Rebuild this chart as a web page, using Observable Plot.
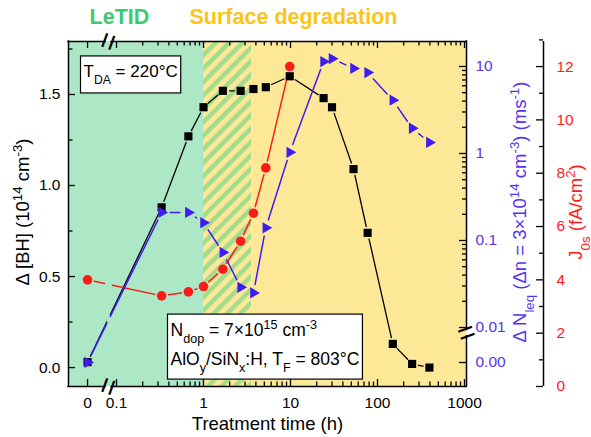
<!DOCTYPE html>
<html><head><meta charset="utf-8">
<script src="https://cdn.jsdelivr.net/npm/d3@7"></script>
<script src="https://cdn.jsdelivr.net/npm/@observablehq/plot@0.6"></script>
<style>body{margin:0;background:#fff} svg{display:block}</style>
</head><body><div id="chart"></div>
<script>
// ---------------- data ----------------
const times     = [0, 0.33, 0.67, 1, 1.67, 2.67, 3.75, 5.2, 9.8, 24, 30, 53, 77, 150, 250, 395];
const deltaBH   = [0.03, 0.88, 1.27, 1.43, 1.52, 1.52, 1.53, 1.54, 1.60, 1.48, 1.43, 1.09, 0.74, 0.13, 0.02, 0.0];
const deltaNleq = [0, 0.21, 0.21, 0.16, 0.073, 0.029, 0.025, 0.14, 1.03, 11.4, 12.3, 9.5, 8.5, 4.1, 1.95, 1.34];
const j0s       = [4.0, 3.4, 3.55, 3.75, 4.4, 5.45, 6.5, 8.2, 12.0];

const xTicks      = [0, 0.1, 1, 10, 100, 1000];
const xTickLabels = ["0", "0.1", "1", "10", "100", "1000"];
const bhTicks      = [0, 0.5, 1.0, 1.5];
const bhTickLabels = ["0.0", "0.5", "1.0", "1.5"];
const bhMinor      = [0.25, 0.75, 1.25, 1.75];
const nTicks      = [0, 0.01, 0.1, 1, 10];
const nTickLabels = ["0.00", "0.01", "0.1", "1", "10"];
const jTicks      = [0, 2, 4, 6, 8, 10, 12];
const jTickLabels = ["0", "2", "4", "6", "8", "10", "12"];
const jMinor      = [1, 3, 5, 7, 9, 11, 13];
const phaseEnds = {letid: 1, transition: 3.6};   // h

// ---------------- axis geometry ----------------
const W = 591, H = 437, mL = 68, mR = 125, mT = 41, mB = 51;
const FW = W - mL - mR, FH = H - mT - mB;
const X_ZERO = -1.333;                  // where t = 0 sits (log-decade units)
const xDomain = [-1.552, 3.023];
const xBreak = -1.092, gapX = 0.035;
const tx = t => t === 0 ? X_ZERO : Math.log10(t);
const BH = [-0.104, 1.791];
const J = [0, 12.94];
const N = {zero: 0.0696, at001: 0.171, decade: 0.2522};
const fBH = v => (v - BH[0]) / (BH[1] - BH[0]);
const fJ = v => (v - J[0]) / (J[1] - J[0]);
const fN = v => v === 0 ? N.zero : N.at001 + N.decade * (Math.log10(v) + 2);
const nBreak = 0.155, gapY = 0.009;

const xMinor = []; for (let e = -1; e < 3; e++) for (let k = 2; k < 10; k++) xMinor.push(k * 10 ** e);
const nMinor = []; for (let e = -2; e < 1; e++) for (let k = 2; k < 10; k++) nMinor.push(k * 10 ** e);

const bhData = times.map((t, i) => ({t, v: deltaBH[i]}));
const nData = times.map((t, i) => ({t, v: deltaNleq[i]}));
const jData = j0s.map((v, i) => ({t: times[i], v}));

// Origin-style connecting segments (gap at symbols and at the axis break)
const pxPerU = FW / (xDomain[1] - xDomain[0]);
function segments(data, fy, inset) {
  const out = [];
  const len = (a, b) => Math.hypot((b.x - a.x) * pxPerU, (b.y - a.y) * FH);
  const push = (a, b, s, e) => { if (len(a, b) > s + e + 1) out.push({x1: a.x, y1: a.y, x2: b.x, y2: b.y, s, e}); };
  for (let i = 0; i < data.length - 1; i++) {
    const a = {x: tx(data[i].t), y: fy(data[i].v)}, b = {x: tx(data[i + 1].t), y: fy(data[i + 1].v)};
    if (a.x < xBreak && b.x > xBreak) {
      const k = (xBreak - a.x) / (b.x - a.x), c = {x: xBreak, y: a.y + k * (b.y - a.y)};
      push(a, c, inset, 4); push(c, b, 4, inset);
    } else push(a, b, inset, inset);
  }
  return out;
}
function segMarks(segs, stroke, sw) {
  const groups = d3.groups(segs, d => d.s + "|" + d.e);
  return groups.map(([k, g]) => Plot.arrow(g, {x1: "x1", y1: "y1", x2: "x2", y2: "y2",
    insetStart: g[0].s, insetEnd: g[0].e, headLength: 0, stroke, strokeWidth: sw}));
}

const green = "#ade8c6", yellow = "#fde898", stripe = "#a3dc8c";
const cBlue = "#3f1cf2", cBlueText = "#5533f5", cRed = "#ff1a1a";
const triRight = {draw(ctx, size) {
  const r = Math.sqrt(size / Math.PI);
  ctx.moveTo(r, 0); ctx.lineTo(-r / 2, -r * 0.866); ctx.lineTo(-r / 2, r * 0.866); ctx.closePath();
}};

const frameSegs = [
  {y: 0, x1: xDomain[0], x2: xBreak - gapX}, {y: 0, x1: xBreak + gapX, x2: xDomain[1]},
  {y: 1, x1: xDomain[0], x2: xBreak - gapX}, {y: 1, x1: xBreak + gapX, x2: xDomain[1]}
];
const frameSegsV = [
  {x: xDomain[0], y1: 0, y2: 1},
  {x: xDomain[1], y1: 0, y2: nBreak - gapY}, {x: xDomain[1], y1: nBreak + gapY, y2: 1}
];
const tk = {stroke: "black", strokeWidth: 1.3};
const fs = 15.5, lab = 18.5;
const mid = {textAnchor: "middle", lineAnchor: "middle"};

const plot = Plot.plot({
  width: W, height: H,
  marginLeft: mL, marginRight: mR, marginTop: mT, marginBottom: mB,
  x: {domain: xDomain, axis: null},
  y: {domain: [0, 1], axis: null},
  style: {fontFamily: "'Liberation Sans', Arial, sans-serif", background: "white", overflow: "visible"},
  marks: [
    Plot.rect([0], {x1: () => xDomain[0], x2: () => tx(phaseEnds.letid), y1: () => 0, y2: () => 1, fill: green}),
    Plot.rect([0], {x1: () => tx(phaseEnds.letid), x2: () => tx(phaseEnds.transition), y1: () => 0, y2: () => 1, fill: "url(#hatch)"}),
    Plot.rect([0], {x1: () => tx(phaseEnds.transition), x2: () => xDomain[1], y1: () => 0, y2: () => 1, fill: yellow}),
    // frame
    Plot.ruleY(frameSegs, {y: "y", x1: "x1", x2: "x2", stroke: "black", strokeWidth: 1.5, strokeLinecap: "square"}),
    Plot.ruleX(frameSegsV, {x: "x", y1: "y1", y2: "y2", stroke: "black", strokeWidth: 1.5, strokeLinecap: "square"}),
    // x ticks (bottom and top, inward)
    Plot.ruleX(xTicks, {x: tx, insetTop: FH - 7, ...tk}),
    Plot.ruleX(xTicks, {x: tx, insetBottom: FH - 7, ...tk}),
    Plot.ruleX(xMinor, {x: tx, insetTop: FH - 4.5, ...tk}),
    Plot.ruleX(xMinor, {x: tx, insetBottom: FH - 4.5, ...tk}),
    // left ticks
    Plot.ruleY(bhTicks, {y: fBH, insetRight: FW - 7, ...tk}),
    Plot.ruleY(bhMinor, {y: fBH, insetRight: FW - 4.5, ...tk}),
    // right (blue) ticks
    Plot.ruleY(nTicks, {y: fN, insetLeft: FW - 7, ...tk}),
    Plot.ruleY(nMinor, {y: fN, insetLeft: FW - 4, ...tk}),
    // red axis
    Plot.ruleX([0], {x: () => xDomain[1], y1: () => 0, y2: () => 1, dx: 77, stroke: "black", strokeWidth: 1.5}),
    Plot.ruleY(jTicks, {y: fJ, insetLeft: FW - 7, dx: 77, ...tk}),
    Plot.ruleY(jMinor, {y: fJ, insetLeft: FW - 4, dx: 77, ...tk}),
    // axis breaks
    Plot.text(["="], {text: d => d, x: () => xBreak, frameAnchor: "bottom", rotate: -70, fontSize: 30, ...mid}),
    Plot.text(["="], {text: d => d, x: () => xBreak, frameAnchor: "top", rotate: -70, fontSize: 30, ...mid}),
    Plot.text(["="], {text: d => d, y: () => nBreak, frameAnchor: "right", rotate: -20, fontSize: 30, ...mid}),
    // series lines
    ...segMarks(segments(bhData, fBH, 6.5), "black", 1.3),
    ...segMarks(segments(jData, fJ, 7), cRed, 1.5),
    ...segMarks(segments(nData, fN, 8.5), cBlue, 1.5),
    // series symbols
    Plot.dot(bhData, {x: d => tx(d.t), y: d => fBH(d.v), symbol: "square", r: 4.6, fill: "black"}),
    Plot.dot(jData, {x: d => tx(d.t), y: d => fJ(d.v), symbol: "circle", r: 4.8, fill: cRed}),
    Plot.dot(nData, {x: d => tx(d.t), y: d => fN(d.v), symbol: triRight, r: 6.5, fill: cBlue}),
    // tick labels
    Plot.text(xTicks, {x: tx, text: (d, i) => xTickLabels[i], frameAnchor: "bottom", dy: 17, fontSize: fs, ...mid}),
    Plot.text(bhTicks, {y: fBH, text: (d, i) => bhTickLabels[i], frameAnchor: "left", dx: -8, textAnchor: "end", lineAnchor: "middle", fontSize: fs}),
    Plot.text(nTicks, {y: fN, text: (d, i) => nTickLabels[i], frameAnchor: "right", dx: 9, textAnchor: "start", lineAnchor: "middle", fontSize: fs, fill: cBlueText}),
    Plot.text(jTicks, {y: fJ, text: (d, i) => jTickLabels[i], frameAnchor: "right", dx: 90, textAnchor: "start", lineAnchor: "middle", fontSize: fs, fill: cRed}),
    // axis titles
    Plot.text(["Treatment time (h)"], {text: d => d, frameAnchor: "bottom", dy: 38, fontSize: lab, ...mid}),
    Plot.text(["Δ [BH] (10^{14} cm^{-3})"], {text: d => d, frameAnchor: "left", dx: -45, dy: -2, rotate: -90, fontSize: lab, ...mid}),
    Plot.text(["Δ N_{leq} (Δn = 3×10^{14} cm^{-3}) (ms^{-1})"], {text: d => d, frameAnchor: "right", dx: 54, dy: -2, rotate: -90, fontSize: lab, fill: cBlueText, ...mid}),
    Plot.text(["J_{0s} (fA/cm^{2})"], {text: d => d, frameAnchor: "right", dx: 110, dy: -2, rotate: -90, fontSize: lab, fill: cRed, ...mid}),
    // phase titles
    Plot.text(["LeTID"], {text: d => d, x: () => -0.966, frameAnchor: "top", dy: -24, fontSize: 21.5, fontWeight: "bold", fill: "#3ccb6c", ...mid}),
    Plot.text(["Surface degradation"], {text: d => d, x: () => 1.034, frameAnchor: "top", dy: -24, fontSize: 21.5, fontWeight: "bold", fill: "#fcc419", ...mid}),
    // annotation boxes
    Plot.text(["T_{DA} = 220°C"], {text: d => d, frameAnchor: "top-left", dx: 15, dy: 30, textAnchor: "start", lineAnchor: "middle", fontSize: 17, ariaDescription: "box1"}),
    Plot.text(["N_{dop} = 7×10^{15} cm^{-3}"], {text: d => d, frameAnchor: "bottom-left", dx: 102, dy: -56, textAnchor: "start", lineAnchor: "middle", fontSize: 17.5, ariaDescription: "box2"}),
    Plot.text(["AlO_{y}/SiN_{x}:H, T_{F} = 803°C"], {text: d => d, frameAnchor: "bottom-left", dx: 102, dy: -27, textAnchor: "start", lineAnchor: "middle", fontSize: 17.5, ariaDescription: "box2"})
  ]
});

document.getElementById("chart").appendChild(plot);
const svg = d3.select(plot);
// hatch pattern
const defs = svg.insert("defs", ":first-child");
const pat = defs.append("pattern").attr("id", "hatch").attr("patternUnits", "userSpaceOnUse")
  .attr("width", 9.5).attr("height", 9.5).attr("patternTransform", "rotate(45)");
pat.append("rect").attr("width", 9.5).attr("height", 9.5).attr("fill", yellow);
pat.append("rect").attr("width", 4.5).attr("height", 9.5).attr("fill", stripe);

// sub/superscript markup -> tspans
const NS = "http://www.w3.org/2000/svg";
plot.querySelectorAll("text").forEach(el => {
  const s = el.textContent;
  if (!/[_^]\{/.test(s)) return;
  el.textContent = "";
  const add = (txt, kind) => {
    const ts = document.createElementNS(NS, "tspan");
    ts.textContent = txt;
    if (kind) { ts.setAttribute("baseline-shift", kind === "_" ? "sub" : "super"); ts.setAttribute("font-size", "72%"); }
    el.appendChild(ts);
  };
  const re = /([_^])\{([^}]*)\}/g; let last = 0, m;
  while ((m = re.exec(s))) { if (m.index > last) add(s.slice(last, m.index)); add(m[2], m[1]); last = re.lastIndex; }
  if (last < s.length) add(s.slice(last));
});

// boxes behind annotation texts
const svgRect = plot.getBoundingClientRect();
[["box1", 3, 6], ["box2", 3, 4]].forEach(([id, px, py]) => {
  const gs = plot.querySelectorAll(`g[aria-description="${id}"]`);
  if (!gs.length) return;
  let x0 = Infinity, y0 = Infinity, x1 = -Infinity, y1 = -Infinity;
  gs.forEach(g => { const b = g.getBoundingClientRect(); x0 = Math.min(x0, b.left); y0 = Math.min(y0, b.top); x1 = Math.max(x1, b.right); y1 = Math.max(y1, b.bottom); });
  const r = document.createElementNS(NS, "rect");
  r.setAttribute("x", x0 - svgRect.left - px); r.setAttribute("y", y0 - svgRect.top - py);
  r.setAttribute("width", x1 - x0 + 2 * px); r.setAttribute("height", y1 - y0 + 2 * py);
  r.setAttribute("fill", "white"); r.setAttribute("stroke", "black"); r.setAttribute("stroke-width", 1.2);
  gs[0].parentNode.insertBefore(r, gs[0]);
});
</script>
</body></html>
